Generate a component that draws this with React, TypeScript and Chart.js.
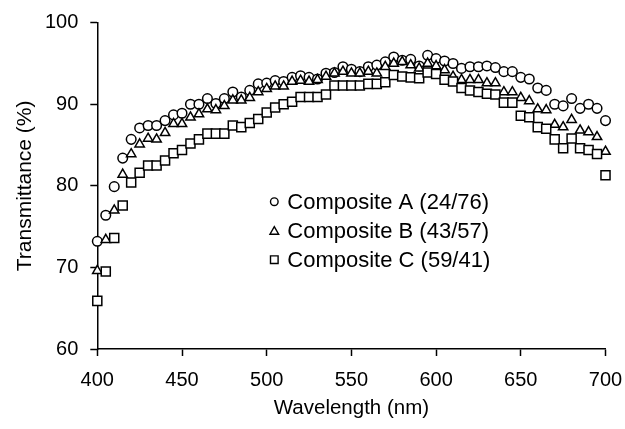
import React, { useEffect, useRef } from 'react';
import { Chart, registerables } from 'chart.js';

Chart.register(...registerables);

const wavelengths = [
  400, 405, 410, 415, 420, 425, 430, 435, 440, 445,
  450, 455, 460, 465, 470, 475, 480, 485, 490, 495,
  500, 505, 510, 515, 520, 525, 530, 535, 540, 545,
  550, 555, 560, 565, 570, 575, 580, 585, 590, 595,
  600, 605, 610, 615, 620, 625, 630, 635, 640, 645,
  650, 655, 660, 665, 670, 675, 680, 685, 690, 695,
  700,
];

const compositeA = [
  73.2, 76.4, 79.9, 83.4, 85.7, 87.1, 87.4, 87.4, 88.0, 88.7,
  88.9, 90.0, 90.0, 90.7, 90.1, 90.7, 91.5, 90.9, 91.7, 92.5,
  92.6, 92.9, 92.8, 93.3, 93.5, 93.3, 93.1, 93.8, 93.9, 94.6,
  94.3, 94.0, 94.6, 94.8, 95.2, 95.8, 95.4, 95.5, 94.7, 96.0,
  95.6, 95.3, 95.0, 94.4, 94.6, 94.6, 94.7, 94.5, 94.0, 94.0,
  93.3, 93.1, 92.0, 91.7, 90.0, 89.8, 90.7, 89.5, 90.0, 89.5,
  88.0,
];

const compositeB = [
  69.6, 73.4, 77.0, 81.4, 83.9, 85.1, 85.8, 85.7, 86.5, 87.6,
  87.6, 88.4, 88.8, 89.4, 89.3, 89.8, 90.5, 90.5, 90.8, 91.5,
  91.9, 92.2, 92.2, 92.8, 92.9, 92.8, 93.0, 93.4, 93.8, 94.0,
  93.8, 93.8, 94.0, 93.8, 94.6, 95.0, 95.2, 94.8, 94.4, 95.0,
  94.7, 94.2, 93.4, 93.0, 93.0, 93.0, 92.6, 92.6, 91.5, 91.5,
  90.8, 90.4, 89.4, 89.3, 87.5, 87.2, 88.1, 86.8, 86.6, 86.0,
  84.2,
];

const compositeC = [
  65.9, 69.5, 73.6, 77.6, 80.4, 81.6, 82.5, 82.5, 83.1, 84.0,
  84.4, 85.2, 85.7, 86.4, 86.4, 86.4, 87.4, 87.2, 87.7, 88.2,
  89.0, 89.6, 90.0, 90.3, 90.9, 90.9, 90.9, 91.2, 92.3, 92.3,
  92.3, 92.3, 92.5, 92.5, 92.7, 93.6, 93.4, 93.3, 93.2, 93.9,
  93.7, 93.0, 92.8, 92.0, 91.7, 91.5, 91.3, 91.2, 90.2, 90.2,
  88.6, 88.4, 87.2, 87.0, 85.7, 84.6, 85.8, 84.6, 84.4, 83.9,
  81.3,
];

const seriesLabels = ['Composite A (24/76)', 'Composite B (43/57)', 'Composite C (59/41)'];
const seriesMarkers = ['circle', 'triangle', 'rect'];
const xTickValues = [400, 450, 500, 550, 600, 650, 700];
const yTickValues = [60, 70, 80, 90, 100];

const FONT = '"Liberation Sans", Arial, Helvetica, sans-serif';

function drawMarker(ctx: CanvasRenderingContext2D, style: string, x: number, y: number, r: number) {
  ctx.beginPath();
  if (style === 'circle') {
    ctx.arc(x, y, r, 0, Math.PI * 2);
  } else if (style === 'triangle') {
    ctx.moveTo(x, y - r);
    ctx.lineTo(x + r * 0.866, y + r * 0.5);
    ctx.lineTo(x - r * 0.866, y + r * 0.5);
    ctx.closePath();
  } else {
    ctx.rect(x - r, y - r, r * 2, r * 2);
  }
  ctx.fillStyle = '#fff';
  ctx.fill();
  ctx.lineWidth = 1.4;
  ctx.strokeStyle = '#000';
  ctx.stroke();
}

const legendPlugin = {
  id: 'customLegend',
  afterDraw(chart: any) {
    const { ctx, chartArea } = chart;
    const markerX = chartArea.left + 177;
    const textX = chartArea.left + 190;
    const firstY = chartArea.top + 179;
    const rowGap = 29;
    const sizes = [3.8, 5.0, 3.8];
    ctx.save();
    ctx.font = `22px ${FONT}`;
    ctx.textBaseline = 'middle';
    ctx.textAlign = 'left';
    seriesLabels.forEach((label, i) => {
      const y = firstY + i * rowGap;
      drawMarker(ctx, seriesMarkers[i], markerX, y + (i === 1 ? 1 : 0), sizes[i]);
      ctx.fillStyle = '#000';
      ctx.fillText(label, textX, y + 1);
    });
    ctx.restore();
  },
};

export default function App() {
  const canvasRef = useRef<HTMLCanvasElement | null>(null);

  useEffect(() => {
    const canvas = canvasRef.current;
    if (!canvas) return;
    const series = [compositeA, compositeB, compositeC];
    const radii = [4.8, 5.4, 6.4];
    const orders = [3, 2, 1];
    const chart = new Chart(canvas, {
      type: 'scatter',
      data: {
        datasets: series.map((vals, i) => ({
          label: seriesLabels[i],
          data: wavelengths.map((w, j) => ({ x: w, y: vals[j] })),
          pointStyle: seriesMarkers[i] as any,
          pointRadius: radii[i],
          pointBorderWidth: 1.5,
          pointBackgroundColor: '#fff',
          pointBorderColor: '#000',
          backgroundColor: '#fff',
          borderColor: '#000',
          showLine: false,
          order: orders[i],
          clip: false as any,
        })),
      },
      options: {
        animation: false,
        responsive: false,
        devicePixelRatio: 1,
        events: [],
        layout: { padding: { top: 22.7, right: 19.5, left: 0, bottom: 0 } },
        plugins: {
          legend: { display: false },
          tooltip: { enabled: false },
        },
        scales: {
          x: {
            type: 'linear',
            min: 400,
            max: 700,
            afterBuildTicks: (scale: any) => {
              scale.ticks = xTickValues.map((v) => ({ value: v }));
            },
            afterFit: (scale: any) => {
              scale.height = 80;
              scale.paddingLeft = 0;
              scale.paddingRight = 0;
            },
            grid: {
              drawOnChartArea: false,
              drawTicks: true,
              tickLength: 7,
              tickColor: '#000',
              tickWidth: 1.5,
            },
            border: { display: true, color: '#000', width: 1.5 },
            ticks: {
              color: '#000',
              padding: 12,
              maxRotation: 0,
              font: { family: FONT, size: 20 },
            },
            title: {
              display: true,
              text: 'Wavelength (nm)',
              color: '#000',
              font: { family: FONT, size: 20.5 },
              padding: { top: 0, bottom: 8 },
            },
          },
          y: {
            type: 'linear',
            min: 60,
            max: 100,
            afterBuildTicks: (scale: any) => {
              scale.ticks = yTickValues.map((v) => ({ value: v }));
            },
            afterFit: (scale: any) => {
              scale.width = 97.3;
              scale.paddingTop = 0;
              scale.paddingBottom = 0;
            },
            grid: {
              drawOnChartArea: false,
              drawTicks: true,
              tickLength: 7,
              tickColor: '#000',
              tickWidth: 1.5,
            },
            border: { display: true, color: '#000', width: 1.5 },
            ticks: {
              color: '#000',
              padding: 12,
              font: { family: FONT, size: 20 },
            },
            title: {
              display: true,
              text: 'Transmittance (%)',
              color: '#000',
              font: { family: FONT, size: 21 },
              padding: { top: 13, bottom: 0 },
            },
          },
        },
      },
      plugins: [legendPlugin],
    });
    return () => chart.destroy();
  }, []);

  return (
    <div style={{ position: 'fixed', left: 0, top: 0, width: 625, height: 429, background: '#fff' }}>
      <canvas ref={canvasRef} width={625} height={429} style={{ width: 625, height: 429, display: 'block' }} />
    </div>
  );
}
